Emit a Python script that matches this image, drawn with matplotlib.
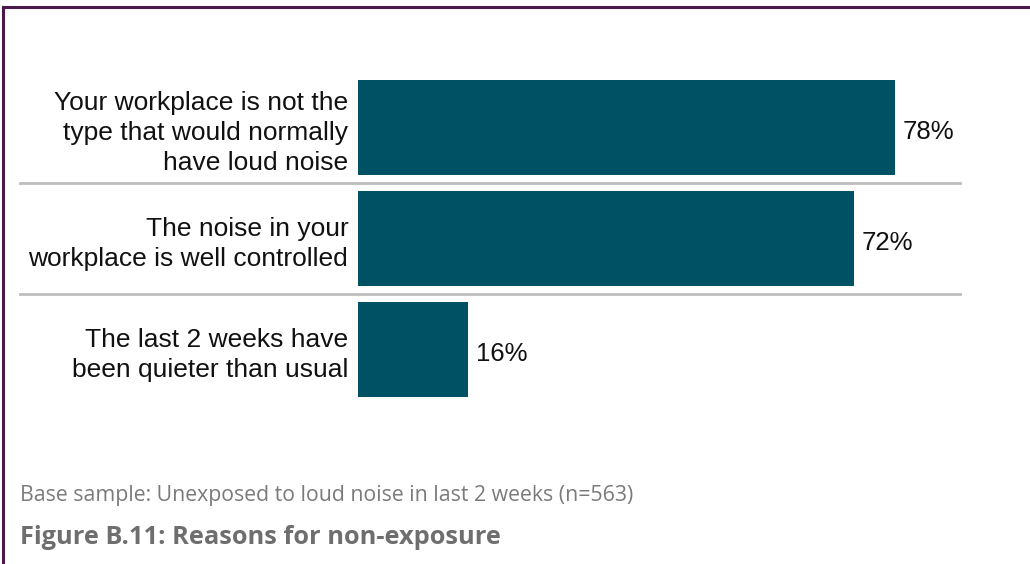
import matplotlib.pyplot as plt
from matplotlib.lines import Line2D
from matplotlib.transforms import blended_transform_factory

# reasons and shares (%)
reasons = [
    "Your workplace is not the\ntype that would normally\nhave loud noise",
    "The noise in your\nworkplace is well controlled",
    "The last 2 weeks have\nbeen quieter than usual",
]
shares = [78, 72, 16]

bar_color = "#005163"
border_color = "#4b1a4d"

fig = plt.figure(figsize=(10.30, 5.64), dpi=100)
ax = fig.add_axes([358 / 1030, 1 - 405 / 564, 1 - 358 / 1030, (405 - 72) / 564])

ys = range(len(reasons))
ax.barh(ys, shares, height=0.85, color=bar_color)
ax.set_xlim(0, 672 / 6.885)
ax.set_ylim(len(reasons) - 0.5, -0.5)

for y, v in zip(ys, shares):
    ax.text(v + 1.1, y + 0.04, f"{v}%", va="center", ha="left",
            fontsize=18.5, family="Liberation Sans", color="#111111")

ax.set_yticks(list(ys))
ax.set_yticklabels(reasons, fontsize=19, family="Liberation Sans",
                   color="#111111", linespacing=1.32)
ax.tick_params(axis="y", length=0, pad=7)
ax.set_xticks([])
for s in ax.spines.values():
    s.set_visible(False)

# grey separators between rows
trans = blended_transform_factory(fig.transFigure, ax.transData)
for y in [0.5, 1.5]:
    fig.add_artist(Line2D([20 / 1030, 960 / 1030], [y, y], transform=trans,
                          color="#bdbdbd", lw=2))

# frame on top and left
fig.add_artist(Line2D([3 / 1030, 1], [1 - 7 / 564, 1 - 7 / 564],
                      color=border_color, lw=2.2))
fig.add_artist(Line2D([3 / 1030, 3 / 1030], [0, 1 - 7 / 564],
                      color=border_color, lw=2.2))

fig.text(20 / 1030, 1 - 495 / 564,
         "Base sample: Unexposed to loud noise in last 2 weeks (n=563)",
         fontsize=15.3, family="Open Sans", color="#7a7a7a", va="center")
fig.text(20 / 1030, 1 - 537 / 564, "Figure B.11: Reasons for non-exposure",
         fontsize=18.3, family="Open Sans", fontweight="bold", color="#6e6e6e",
         va="center")

fig.savefig("out.png", dpi=100)
